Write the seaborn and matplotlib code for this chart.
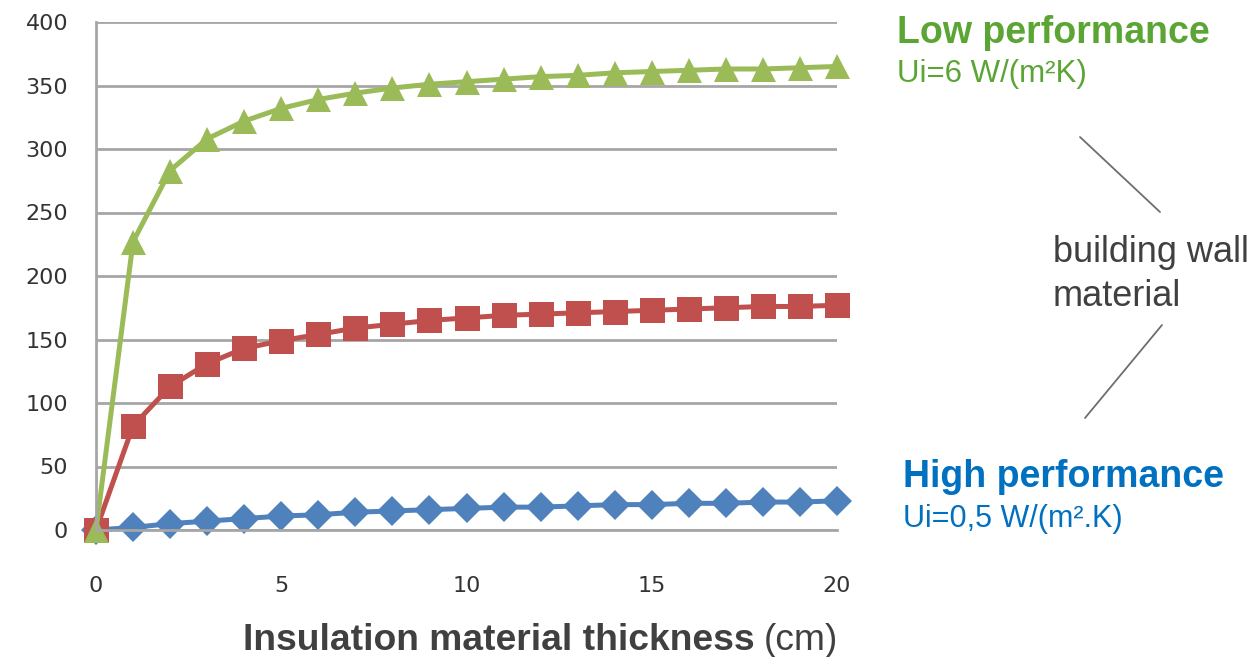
import numpy as np
import pandas as pd
import matplotlib
matplotlib.use("Agg")
import matplotlib.pyplot as plt
import seaborn as sns

# spessore isolante (cm)
thickness = list(range(0, 21))

# valori
high_perf = [0, 2, 5, 7, 9, 11, 12, 14, 15, 16, 17, 18, 18, 19, 20, 20, 21, 21, 22, 22, 23]
mid_perf = [0, 82, 113, 131, 143, 149, 154, 159, 162, 165, 167, 169, 170, 171, 172, 173, 174, 175, 176, 176, 177]
low_perf = [0, 227, 283, 308, 322, 332, 339, 344, 348, 351, 353, 355, 357, 358, 360, 361, 362, 363, 363, 364, 365]

series_names = ["high", "mid", "low"]
series_colors = {"high": "#4F81BD", "mid": "#C0504D", "low": "#9BBB59"}
series_markers = {"high": "D", "mid": "s", "low": "^"}
marker_sizes = [15, 18, 18]

y_ticks = [0, 50, 100, 150, 200, 250, 300, 350, 400]
x_ticks = [0, 5, 10, 15, 20]

df = pd.DataFrame({
    "x": thickness * 3,
    "y": high_perf + mid_perf + low_perf,
    "serie": ["high"] * 21 + ["mid"] * 21 + ["low"] * 21,
})

sns.set_style("white")
plt.rcParams["font.family"] = ["DejaVu Sans"]

W, H = 1259, 657
fig = plt.figure(figsize=(W / 100, H / 100), dpi=100)
ax = fig.add_axes([96 / W, 1 - 530 / H, (837 - 96) / W, (530 - 22) / H])

sns.lineplot(data=df, x="x", y="y", hue="serie", style="serie", hue_order=series_names,
             style_order=series_names, palette=series_colors, markers=series_markers,
             dashes=False, linewidth=3.6, markeredgewidth=0,
             legend=False, ax=ax)

# dimensione dei marker per serie
for line, ms in zip(ax.lines, marker_sizes):
    line.set_markersize(ms)
    line.set_clip_on(False)

ax.set_xlim(0, 20)
ax.set_ylim(0, 400)
ax.set_xticks(x_ticks)
ax.set_yticks(y_ticks)
ax.yaxis.grid(True, color="#A6A6A6", linewidth=2)
ax.set_axisbelow(True)
for s in ["top", "right"]:
    ax.spines[s].set_visible(False)
for s in ["left", "bottom"]:
    ax.spines[s].set_color("#A6A6A6")
    ax.spines[s].set_linewidth(2)
ax.tick_params(axis="y", length=7, width=2, color="#A6A6A6", pad=13, labelsize=16, labelcolor="#333333")
ax.tick_params(axis="x", length=7, width=2, color="#A6A6A6", pad=26, labelsize=16, labelcolor="#333333")
ax.set_xlabel("")
ax.set_ylabel("")


def put(x, y, s, **kw):
    # testo in coordinate pixel (origine in alto a sinistra), y = baseline
    fig.text(x / W, 1 - y / H, s, va="baseline", family="Liberation Sans", **kw)


t = fig.text(243 / W, 1 - 650 / H, "Insulation material thickness", fontsize=26.8, fontweight="bold",
             color="#404040", family="Liberation Sans", va="baseline")
fig.canvas.draw()
bb = t.get_window_extent()
fig.text((bb.x1 + 9) / W, 1 - 650 / H, "(cm)", fontsize=26.8, color="#404040",
         family="Liberation Sans", va="baseline")

green_txt = "#5BA534"
blue_txt = "#0070C0"
put(897, 43, "Low performance", fontsize=27, fontweight="bold", color=green_txt)
put(897, 82, "Ui=6 W/(m²K)", fontsize=22.5, color=green_txt)
put(903, 487, "High performance", fontsize=27, fontweight="bold", color=blue_txt)
put(903, 527, "Ui=0,5 W/(m².K)", fontsize=22, color=blue_txt)
put(1053, 262, "building wall", fontsize=26, color="#404040")
put(1053, 306, "material", fontsize=26, color="#404040")

fig.add_artist(plt.Line2D([1080 / W, 1160 / W], [1 - 137 / H, 1 - 212 / H],
                          color="#6E6E6E", linewidth=1.3))
fig.add_artist(plt.Line2D([1162 / W, 1085 / W], [1 - 325 / H, 1 - 418 / H],
                          color="#6E6E6E", linewidth=1.3))

fig.savefig("out.png", dpi=100)
